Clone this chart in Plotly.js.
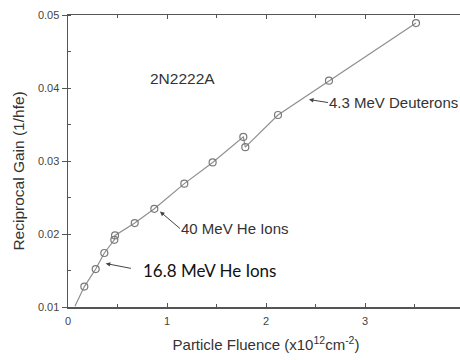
<!DOCTYPE html>
<html>
<head>
<meta charset="utf-8">
<script src="https://cdn.plot.ly/plotly-3.0.1.min.js"></script>
<style>
html,body{margin:0;padding:0;overflow:hidden;background:#fff;}
#chart{width:464px;height:360px;}
</style>
</head>
<body>
<div id="chart"></div>
<script>
// Particle fluence (x10^12 cm^-2) and reciprocal gain (1/hfe)
const lineStartX = [0.07];
const lineStartY = [0.0101];
const fluence = [0.165, 0.28, 0.367, 0.468, 0.475, 0.674, 0.872, 1.175, 1.461, 1.771, 1.791, 2.121, 2.636, 3.515];
const recipGain = [0.0128, 0.0152, 0.0174, 0.0192, 0.0198, 0.0215, 0.02345, 0.0269, 0.0298, 0.0333, 0.0319, 0.0363, 0.0410, 0.0489];
const xTickVals = [0, 1, 2, 3];
const yTickVals = [0.01, 0.02, 0.03, 0.04, 0.05];
const yTickText = ["0.01", "0.02", "0.03", "0.04", "0.05"];

// annotation labels and the points their arrows indicate
const labels = ['4.3 MeV Deuterons', '40 MeV He Ions', '16.8 MeV He Ions'];
const arrowHeadX = [2.434, 0.929, 0.381];
const arrowHeadY = [0.03842, 0.02308, 0.01596];

const traces = [
  {
    x: lineStartX.concat(fluence),
    y: lineStartY.concat(recipGain),
    mode: 'lines',
    line: {color: '#8f8f8f', width: 1.2},
    hoverinfo: 'skip',
    showlegend: false
  },
  {
    x: fluence,
    y: recipGain,
    mode: 'markers',
    marker: {symbol: 'circle-open', size: 7, color: '#7a7a7a', line: {width: 1.2, color: '#7a7a7a'}},
    showlegend: false
  }
];

const gray = '#444';
const labelOffset = [[19, 3], [20, 17], [36, 7]];
const tailGap = [0, 0, 11];
const labelFonts = [
  {family: 'Liberation Sans, Arial, sans-serif', size: 15, color: '#333'},
  {family: 'Liberation Sans, Arial, sans-serif', size: 15, color: '#333'},
  {family: 'Lato, sans-serif', size: 17, color: '#111'}
];
const annotations = [
  {x: 1.152, y: 0.0413, xref: 'x', yref: 'y', text: '2N2222A', showarrow: false,
   font: {size: 15.5, color: '#333'}},
  {x: -0.124, y: 0.4667, xref: 'paper', yref: 'paper', text: 'Reciprocal Gain (1/hfe)', showarrow: false,
   textangle: -90, xanchor: 'center', yanchor: 'middle', font: {size: 15.5, color: '#333'}}
];
labels.forEach((t, i) => {
  annotations.push({x: arrowHeadX[i], y: arrowHeadY[i], xref: 'x', yref: 'y', text: t, showarrow: true,
    ax: labelOffset[i][0], ay: labelOffset[i][1], xanchor: 'left', yanchor: 'middle',
    startstandoff: tailGap[i], borderpad: 0,
    arrowhead: 2, arrowsize: 0.9, arrowwidth: 1, arrowcolor: '#444', font: labelFonts[i]});
});

const layout = {
  width: 464,
  height: 360,
  margin: {l: 68, r: 0, t: 15, b: 52.5},
  paper_bgcolor: '#fff',
  plot_bgcolor: '#fff',
  font: {family: 'Liberation Sans, Arial, sans-serif', color: gray, size: 11},
  xaxis: {
    range: [0, 4],
    tickvals: xTickVals,
    ticks: 'inside',
    ticklen: 4,
    tickcolor: '#555',
    ticklabelstandoff: 3,
    showline: true,
    linecolor: '#555',
    linewidth: 1.5,
    mirror: 'ticks',
    showgrid: false,
    zeroline: false,
    minor: {dtick: 0.5, tick0: 0, ticks: 'inside', ticklen: 3, tickcolor: '#555', showgrid: false},
    tickfont: {size: 11, color: gray},
    title: {text: 'Particle Fluence (x10<sup>12</sup>cm<sup>-2</sup>)', font: {size: 15, color: '#333'}, standoff: 14}
  },
  yaxis: {
    range: [0.01, 0.05],
    tickvals: yTickVals,
    ticktext: yTickText,
    ticks: 'outside',
    ticklen: 5,
    tickcolor: '#555',
    showline: true,
    linecolor: '#555',
    linewidth: 1.5,
    mirror: 'ticks',
    showgrid: false,
    zeroline: false,
    minor: {dtick: 0.005, tick0: 0.01, ticks: 'inside', ticklen: 3, tickcolor: '#555', showgrid: false},
    tickfont: {size: 11, color: gray}
  },
  annotations: annotations
};

Plotly.newPlot('chart', traces, layout, {displayModeBar: false, staticPlot: true});
</script>
</body>
</html>
